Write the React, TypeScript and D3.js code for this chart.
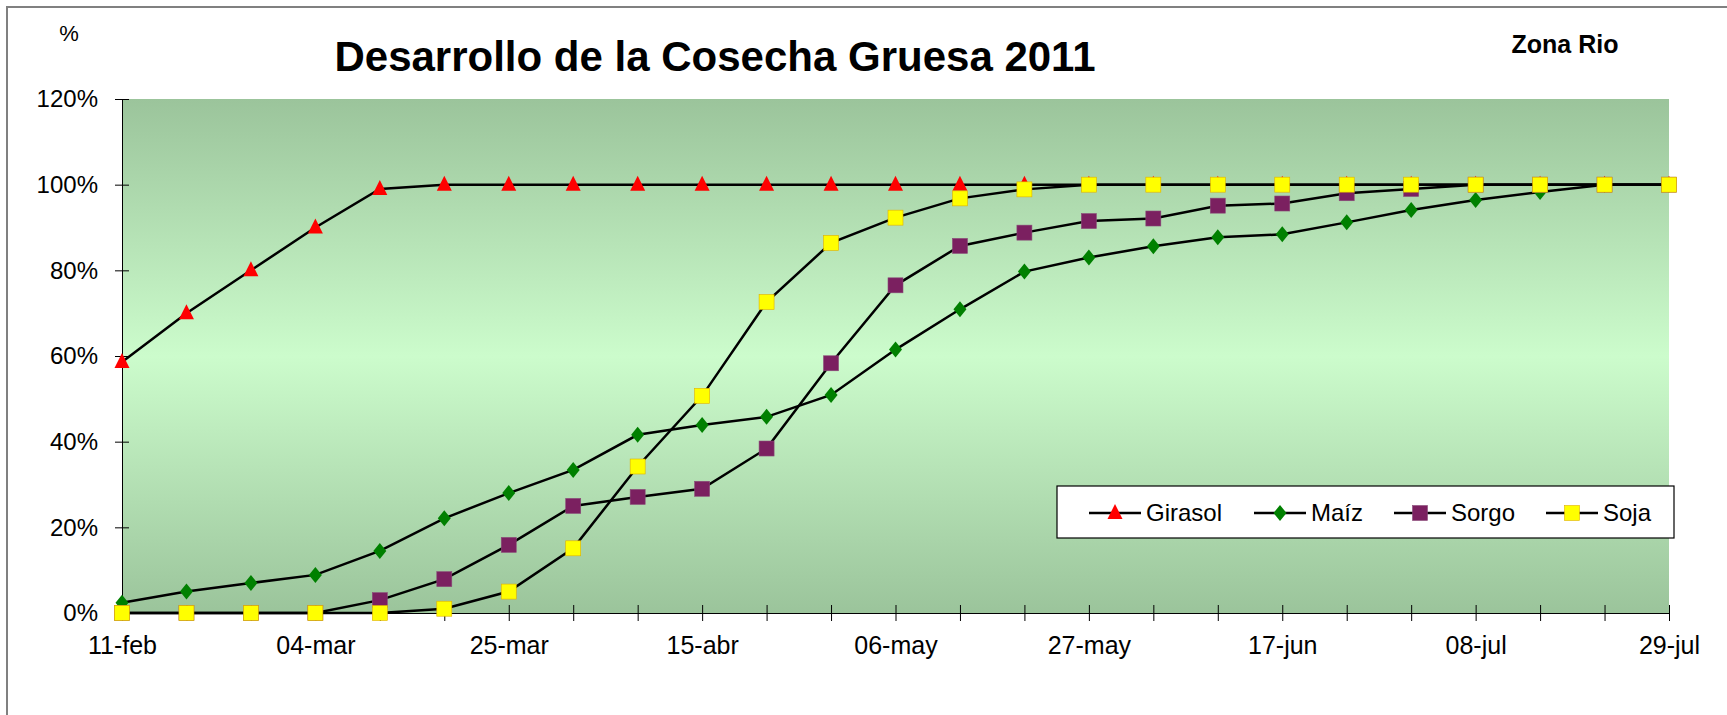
import { useEffect, useRef } from 'react';
import * as d3 from 'd3';

const WIDTH = 1727;
const HEIGHT = 715;
const PLOT = { left: 122, right: 1669, top: 99, bottom: 613 };

// weekly survey dates
const dates = [
  '2011-02-11', '2011-02-18', '2011-02-25', '2011-03-04', '2011-03-11',
  '2011-03-18', '2011-03-25', '2011-04-01', '2011-04-08', '2011-04-15',
  '2011-04-22', '2011-04-29', '2011-05-06', '2011-05-13', '2011-05-20',
  '2011-05-27', '2011-06-03', '2011-06-10', '2011-06-17', '2011-06-24',
  '2011-07-01', '2011-07-08', '2011-07-15', '2011-07-22', '2011-07-29',
];
const tickLabels = ['11-feb', '', '', '04-mar', '', '', '25-mar', '', '', '15-abr', '', '', '06-may', '', '', '27-may', '', '', '17-jun', '', '', '08-jul', '', '', '29-jul'];
const yTicks = [0, 20, 40, 60, 80, 100, 120];

const girasol = [58.6, 70, 80, 90, 99, 100, 100, 100, 100, 100, 100, 100, 100, 100, 100, 100, 100, 100, 100, 100, 100, 100, 100, 100, 100];
const maiz = [2.4, 5, 7, 8.9, 14.5, 22.1, 28, 33.4, 41.6, 43.9, 45.8, 50.9, 61.5, 70.9, 79.7, 83, 85.6, 87.7, 88.4, 91.2, 94.1, 96.4, 98.3, 100, 100];
const sorgo = [0, 0, 0, 0, 3, 7.9, 15.9, 25, 27.1, 29, 38.4, 58.3, 76.5, 85.7, 88.8, 91.5, 92.1, 95.1, 95.6, 98, 99, 100, 100, 100, 100];
const soja = [0, 0, 0, 0, 0, 1, 5, 15.1, 34.2, 50.7, 72.6, 86.4, 92.3, 96.8, 98.9, 100, 100, 100, 100, 100, 100, 100, 100, 100, 100];

const series = [
  { name: 'Girasol', values: girasol, marker: 'triangle', color: '#ff0000' },
  { name: 'Maíz', values: maiz, marker: 'diamond', color: '#008000' },
  { name: 'Sorgo', values: sorgo, marker: 'square', color: '#7b2060' },
  { name: 'Soja', values: soja, marker: 'square', color: '#ffff00' },
];

const FONT = '"Liberation Sans", Arial, sans-serif';

function drawMarker(g, type, color, x, y) {
  if (type === 'triangle') {
    g.append('path')
      .attr('d', `M${x},${y - 9}L${x + 7.5},${y + 6}L${x - 7.5},${y + 6}Z`)
      .attr('fill', color);
  } else if (type === 'diamond') {
    g.append('path')
      .attr('d', `M${x},${y - 8}L${x + 6.5},${y}L${x},${y + 8}L${x - 6.5},${y}Z`)
      .attr('fill', color);
  } else {
    g.append('rect')
      .attr('x', x - 7.5).attr('y', y - 7.5)
      .attr('width', 15).attr('height', 15)
      .attr('fill', color)
      .attr('stroke', color === '#ffff00' ? '#e0b000' : '#8a4a78')
      .attr('stroke-width', 0.6);
  }
}

export default function App() {
  const svgRef = useRef(null);

  useEffect(() => {
    const svg = d3.select(svgRef.current);
    svg.selectAll('*').remove();

    const parse = d3.timeParse('%Y-%m-%d');
    const dt = dates.map((d) => parse(d));
    const x = d3.scaleTime().domain([dt[0], dt[dt.length - 1]]).range([PLOT.left, PLOT.right]);
    const y = d3.scaleLinear().domain([0, 120]).range([PLOT.bottom, PLOT.top]);

    // background gradient (dark - light - dark)
    const defs = svg.append('defs');
    const grad = defs.append('linearGradient').attr('id', 'bg').attr('x1', 0).attr('x2', 0).attr('y1', 0).attr('y2', 1);
    grad.append('stop').attr('offset', '0%').attr('stop-color', '#9bc49b');
    grad.append('stop').attr('offset', '50%').attr('stop-color', '#ccfccc');
    grad.append('stop').attr('offset', '100%').attr('stop-color', '#9bc49b');

    // chart frame
    svg.append('rect')
      .attr('x', 7).attr('y', 7).attr('width', WIDTH + 20).attr('height', HEIGHT + 20)
      .attr('fill', '#fff').attr('stroke', '#808080').attr('stroke-width', 2);

    svg.append('rect')
      .attr('x', PLOT.left).attr('y', PLOT.top)
      .attr('width', PLOT.right - PLOT.left).attr('height', PLOT.bottom - PLOT.top)
      .attr('fill', 'url(#bg)');

    // axes
    const yAxis = svg.append('g')
      .attr('transform', `translate(${PLOT.left},0)`)
      .call(d3.axisLeft(y).tickValues(yTicks).tickSizeInner(7).tickSizeOuter(0).tickFormat((d) => `${d}%`));
    yAxis.selectAll('.tick line').attr('x2', 7).attr('x1', -7);
    yAxis.select('.domain').attr('stroke', '#000');
    yAxis.selectAll('.tick text')
      .attr('x', -24)
      .style('font-family', FONT).style('font-size', '24px').attr('fill', '#000');

    const xAxis = svg.append('g')
      .attr('transform', `translate(0,${PLOT.bottom})`)
      .call(d3.axisBottom(x).tickValues(dt).tickSizeInner(8).tickSizeOuter(0).tickFormat((d, i) => tickLabels[i]));
    xAxis.selectAll('.tick line').attr('y1', -8).attr('y2', 8);
    xAxis.select('.domain').attr('stroke', '#000');
    xAxis.selectAll('.tick text')
      .attr('y', 23.5)
      .style('font-family', FONT).style('font-size', '25px').attr('fill', '#000');

    // series
    const line = d3.line()
      .x((d, i) => x(dt[i]))
      .y((d) => y(d));

    series.forEach((s) => {
      const g = svg.append('g');
      g.append('path')
        .datum(s.values)
        .attr('d', line)
        .attr('fill', 'none')
        .attr('stroke', '#000')
        .attr('stroke-width', 2.5);
      s.values.forEach((v, i) => drawMarker(g, s.marker, s.color, x(dt[i]), y(v)));
    });

    // legend
    const lg = svg.append('g');
    lg.append('rect')
      .attr('x', 1057).attr('y', 486).attr('width', 617).attr('height', 52)
      .attr('fill', '#fff').attr('stroke', '#000').attr('stroke-width', 1.2);
    const legendX = [1089, 1254, 1394, 1546];
    series.forEach((s, i) => {
      const lx = legendX[i];
      lg.append('line')
        .attr('x1', lx).attr('x2', lx + 52).attr('y1', 513).attr('y2', 513)
        .attr('stroke', '#000').attr('stroke-width', 2.5);
      drawMarker(lg, s.marker, s.color, lx + 26, 513);
      lg.append('text')
        .attr('x', lx + 57).attr('y', 521)
        .style('font-family', FONT).style('font-size', '24px')
        .text(s.name);
    });

    // titles
    svg.append('text')
      .attr('x', 715).attr('y', 71)
      .attr('text-anchor', 'middle')
      .style('font-family', FONT).style('font-size', '42px').style('font-weight', 'bold')
      .text('Desarrollo de la Cosecha Gruesa 2011');
    svg.append('text')
      .attr('x', 1565).attr('y', 53)
      .attr('text-anchor', 'middle')
      .style('font-family', FONT).style('font-size', '25px').style('font-weight', 'bold')
      .text('Zona Rio');
    svg.append('text')
      .attr('x', 69).attr('y', 41)
      .attr('text-anchor', 'middle')
      .style('font-family', FONT).style('font-size', '22px')
      .text('%');
  }, []);

  return (
    <svg
      ref={svgRef}
      width={WIDTH}
      height={HEIGHT}
      style={{ position: 'absolute', left: 0, top: 0, display: 'block', background: '#fff' }}
    />
  );
}
